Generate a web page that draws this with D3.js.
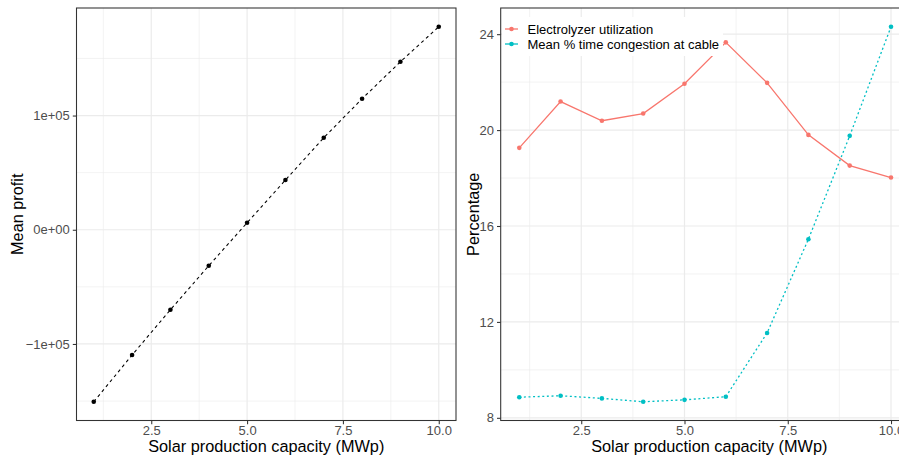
<!DOCTYPE html>
<html>
<head>
<meta charset="utf-8">
<script src="https://cdn.jsdelivr.net/npm/d3@7"></script>
<style>
  body { margin: 0; background: #fff; }
  svg { display: block; font-family: "Liberation Sans", Arial, sans-serif; }
</style>
</head>
<body>
<div id="chart"></div>
<script>
// ── Data ────────────────────────────────────────────────────
const capacity = [1, 2, 3, 4, 5, 6, 7, 8, 9, 10];
const meanProfit = [-150600, -109700, -70050, -31500, 6100, 43500, 80560, 114700, 147100, 177750];
const electrolyzerUtil = [19.26, 21.19, 20.39, 20.69, 21.93, 23.66, 21.97, 19.80, 18.52, 18.02];
const congestion = [8.86, 8.92, 8.81, 8.67, 8.75, 8.88, 11.54, 15.45, 19.76, 24.31];

const xTicks = [2.5, 5, 7.5, 10];
const xMinor = [1.25, 3.75, 6.25, 8.75];
const profitTicks = [-100000, 0, 100000];
const profitMinor = [-150000, -50000, 50000, 150000];
const profitLabels = ['\u22121e+05', '0e+00', '1e+05'];
const pctTicks = [8, 12, 16, 20, 24];
const pctMinor = [10, 14, 18, 22];
const seriesNames = ['Electrolyzer utilization', 'Mean % time congestion at cable'];
const seriesColors = ['#F8766D', '#00BFC4'];

const W = 899, H = 455;
const svg = d3.select('#chart').append('svg').attr('width', W).attr('height', H);

// expand domain by 5% like ggplot
function expand(vals) {
  const [a, b] = d3.extent(vals);
  const p = (b - a) * 0.05;
  return [a - p, b + p];
}

function panel({ x0, x1, y0, y1, yDomain, yTicks, yMinor, yFmt, yTitle, yTitleX, xTitleAt }) {
  const x = d3.scaleLinear().domain(expand(capacity)).range([x0, x1]);
  const y = d3.scaleLinear().domain(yDomain).range([y1, y0]);
  const g = svg.append('g');

  // grid
  const grid = g.append('g');
  grid.selectAll('.minx').data(xMinor).join('line')
    .attr('x1', d => x(d)).attr('x2', d => x(d)).attr('y1', y0).attr('y2', y1)
    .attr('stroke', '#EBEBEB').attr('stroke-width', 0.6);
  grid.selectAll('.miny').data(yMinor).join('line')
    .attr('y1', d => y(d)).attr('y2', d => y(d)).attr('x1', x0).attr('x2', x1)
    .attr('stroke', '#EBEBEB').attr('stroke-width', 0.6);
  grid.selectAll('.majx').data(xTicks).join('line')
    .attr('x1', d => x(d)).attr('x2', d => x(d)).attr('y1', y0).attr('y2', y1)
    .attr('stroke', '#EBEBEB').attr('stroke-width', 1.2);
  grid.selectAll('.majy').data(yTicks).join('line')
    .attr('y1', d => y(d)).attr('y2', d => y(d)).attr('x1', x0).attr('x2', x1)
    .attr('stroke', '#EBEBEB').attr('stroke-width', 1.2);

  // axes
  const xAxis = g.append('g').attr('transform', `translate(0,${y1})`)
    .call(d3.axisBottom(x).tickValues(xTicks).tickFormat(d3.format('.1f')).tickSize(3.7).tickPadding(1.5));
  const yAxis = g.append('g').attr('transform', `translate(${x0},0)`)
    .call(d3.axisLeft(y).tickValues(yTicks).tickFormat(yFmt).tickSize(3.7).tickPadding(3));
  [xAxis, yAxis].forEach(a => {
    a.select('.domain').remove();
    a.selectAll('line').attr('stroke', '#333333').attr('stroke-width', 1.07);
    a.selectAll('text').attr('fill', '#4D4D4D').attr('font-size', 13)
      .attr('font-family', '"Liberation Sans", Arial, sans-serif');
  });

  // border
  g.append('rect').attr('x', x0).attr('y', y0)
    .attr('width', x1 - x0).attr('height', y1 - y0)
    .attr('fill', 'none').attr('stroke', '#333333').attr('stroke-width', 1.07);

  // titles
  g.append('text').attr('x', x(xTitleAt)).attr('y', 452)
    .attr('text-anchor', 'middle').attr('font-size', 16.3).attr('fill', '#000')
    .text('Solar production capacity (MWp)');
  g.append('text')
    .attr('transform', `translate(${yTitleX},${(y0 + y1) / 2}) rotate(-90)`)
    .attr('text-anchor', 'middle').attr('font-size', 16.3).attr('fill', '#000')
    .text(yTitle);

  return { x, y, g };
}

// ── Left panel: mean profit ────────────────────────────────
const L = panel({
  x0: 76.5, x1: 456, y0: 8, y1: 420.5,
  yDomain: expand(meanProfit), yTicks: profitTicks, yMinor: profitMinor,
  yFmt: (d, i) => profitLabels[i], yTitle: 'Mean profit', yTitleX: 23, xTitleAt: 5.5
});
L.g.append('path')
  .datum(capacity.map((c, i) => [c, meanProfit[i]]))
  .attr('d', d3.line().x(d => L.x(d[0])).y(d => L.y(d[1])))
  .attr('fill', 'none').attr('stroke', '#000').attr('stroke-width', 1.07)
  .attr('stroke-dasharray', '3.2,3.2');
L.g.selectAll('.pt').data(capacity).join('circle')
  .attr('cx', d => L.x(d)).attr('cy', (d, i) => L.y(meanProfit[i]))
  .attr('r', 2.3).attr('fill', '#000');

// ── Right panel: percentages (panel runs past the right edge) ──
const allPct = electrolyzerUtil.concat(congestion);
const R = panel({
  x0: 500.7, x1: 909.6, y0: 8, y1: 420.5,
  yDomain: expand(allPct), yTicks: pctTicks, yMinor: pctMinor,
  yFmt: d3.format('d'), yTitle: 'Percentage', yTitleX: 479, xTitleAt: 5.6
});

const series = [electrolyzerUtil, congestion];
const dashes = [null, '2,2.6'];
series.forEach((vals, s) => {
  R.g.append('path')
    .datum(capacity.map((c, i) => [c, vals[i]]))
    .attr('d', d3.line().x(d => R.x(d[0])).y(d => R.y(d[1])))
    .attr('fill', 'none').attr('stroke', seriesColors[s]).attr('stroke-width', 1.3)
    .attr('stroke-dasharray', dashes[s]);
  R.g.selectAll('.pt' + s).data(capacity).join('circle')
    .attr('cx', d => R.x(d)).attr('cy', (d, i) => R.y(vals[i]))
    .attr('r', 2.3).attr('fill', seriesColors[s]);
});

// legend (white box over plot area)
const lg = R.g.append('g');
lg.append('rect').attr('x', 502).attr('y', 17).attr('width', 221).attr('height', 39).attr('fill', '#fff');
seriesNames.forEach((name, i) => {
  const cy = 29 + i * 15;
  lg.append('line').attr('x1', 505).attr('x2', 518).attr('y1', cy).attr('y2', cy)
    .attr('stroke', seriesColors[i]).attr('stroke-width', 1.3);
  lg.append('circle').attr('cx', 511.5).attr('cy', cy).attr('r', 2.3).attr('fill', seriesColors[i]);
  lg.append('text').attr('x', 527.5).attr('y', cy + 4.5).attr('font-size', 13).attr('fill', '#000')
    .text(name);
});
</script>
</body>
</html>
